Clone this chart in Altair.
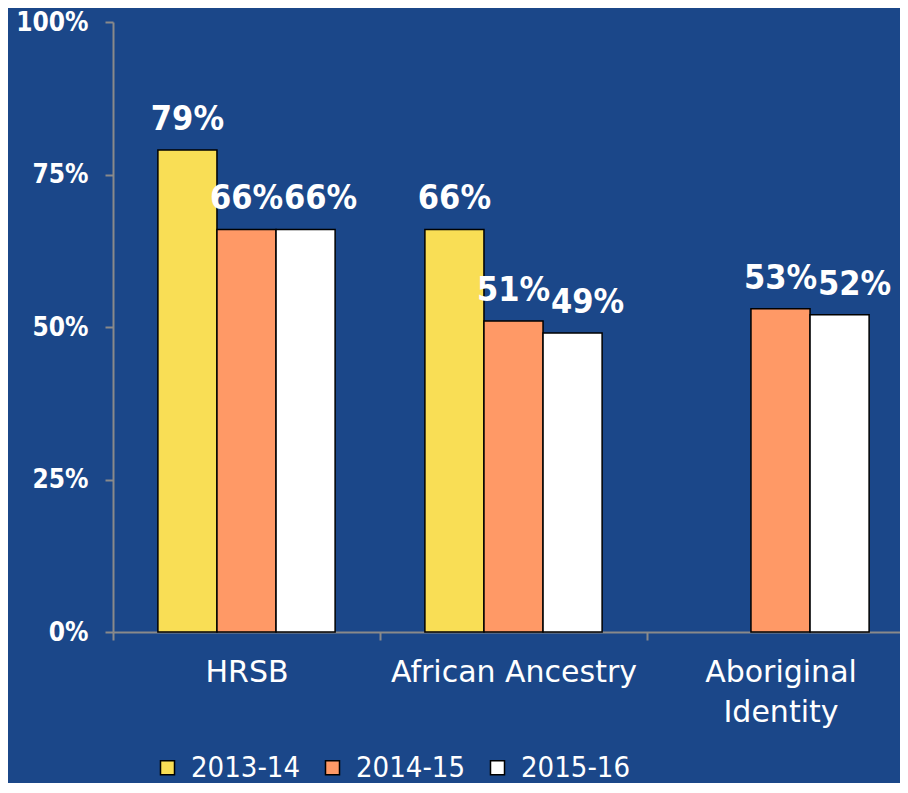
import altair as alt
import pandas as pd

categories = ["HRSB", "African Ancestry", "Aboriginal Identity"]
series = ["2013-14", "2014-15", "2015-16"]
values_2013_14 = [79, 66, None]
values_2014_15 = [66, 51, 53]
values_2015_16 = [66, 49, 52]
y_ticks = [0, 25, 50, 75, 100]
colors = ["#f9de55", "#ff9966", "#ffffff"]

rows = []
for s, vals in zip(series, [values_2013_14, values_2014_15, values_2015_16]):
    for c, v in zip(categories, vals):
        if v is not None:
            rows.append({"category": c, "series": s, "value": v})
df = pd.DataFrame(rows)

BG = "#1b4789"
GRAY = "#8a8a8a"

x_enc = alt.X(
    "category:N",
    sort=categories,
    scale=alt.Scale(paddingInner=0, paddingOuter=0, range=[0, 801]),
    axis=alt.Axis(
        title=None,
        labelAngle=0,
        tickBand="extent",
        labelExpr="datum.value == 'Aboriginal Identity' ? ['Aboriginal', 'Identity'] : datum.value",
        labelFont="DejaVu Sans",
        labelFontSize=30,
        labelColor="white",
        labelPadding=17,
        labelLineHeight=40,
        labelLimit=400,
        tickSize=8,
        tickColor=GRAY,
        tickWidth=2,
        domainColor=GRAY,
        domainWidth=2,
        grid=False,
    ),
)
xo_enc = alt.XOffset(
    "series:N",
    sort=series,
    scale=alt.Scale(domain=series, paddingInner=0, paddingOuter=0.76),
)
y_enc = alt.Y(
    "value:Q",
    scale=alt.Scale(domain=[0, 100]),
    axis=alt.Axis(
        title=None,
        values=y_ticks,
        labelExpr="datum.value + '%'",
        labelFont="DejaVu Sans Condensed, DejaVu Sans",
        labelFontWeight="bold",
        labelFontSize=26,
        labelColor="white",
        labelPadding=17,
        tickSize=8,
        tickColor=GRAY,
        tickWidth=2,
        domainColor=GRAY,
        domainWidth=2,
        grid=False,
    ),
)

base = alt.Chart(df).transform_calculate(label="datum.value + '%'")

bars = base.mark_bar(stroke="black", strokeWidth=1.5).encode(
    x=x_enc,
    xOffset=xo_enc,
    y=y_enc,
    color=alt.Color(
        "series:N",
        sort=series,
        scale=alt.Scale(domain=series, range=colors),
        legend=alt.Legend(
            title=None,
            orient="none",
            legendX=40,
            legendY=731,
            direction="horizontal",
            symbolType="square",
            symbolSize=196,
            symbolStrokeColor="black",
            symbolStrokeWidth=1.5,
            labelFont="DejaVu Sans Condensed, DejaVu Sans",
            labelFontSize=29,
            labelColor="white",
            labelOffset=9,
            columnPadding=18,
            labelLimit=400,
        ),
    ),
)

text_style = dict(
    baseline="alphabetic",
    dy=-20,
    font="DejaVu Sans Condensed, DejaVu Sans",
    fontSize=34,
    fontWeight="bold",
    color="white",
)

text_a = base.transform_filter("datum.series != '2015-16'").mark_text(**text_style).encode(
    x=alt.X("category:N", sort=categories),
    xOffset=xo_enc,
    y="value:Q",
    text="label:N",
)
text_b = base.transform_filter("datum.series == '2015-16'").mark_text(dx=15, **text_style).encode(
    x=alt.X("category:N", sort=categories),
    xOffset=xo_enc,
    y="value:Q",
    text="label:N",
)

chart = (
    alt.layer(bars, text_a, text_b)
    .properties(
        width=787,
        height=610,
        padding={"left": 105, "top": 14, "right": 0, "bottom": 151},
        autosize="none",
        background=BG,
    )
    .configure_view(stroke=None)
)

chart.save("out.html", embed_options={"renderer": "svg", "actions": False})
